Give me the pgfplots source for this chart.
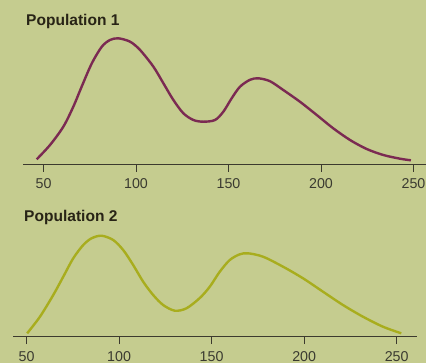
\documentclass[border=0pt]{standalone}
\usepackage{pgfplots}
\pgfplotsset{compat=1.18}
\usepackage{fontspec}
\setmainfont{Liberation Sans}
\definecolor{bgc}{RGB}{197,204,143}
\definecolor{c1}{RGB}{123,42,82}
\definecolor{c2}{RGB}{168,173,30}
\definecolor{txt}{RGB}{40,36,22}
\definecolor{tickc}{RGB}{58,58,48}
\definecolor{axc}{RGB}{60,58,46}
\pgfplotsset{
  panel/.style={
    scale only axis,
    anchor=south west,
    axis x line*=bottom,
    axis y line=none,
    axis line style={-, draw=axc, line width=1bp},
    xtick={50,100,150,200,250},
    xtick align=outside,
    major tick length=7.5bp,
    major tick style={draw=axc, line width=1bp},
    xticklabel style={font=\fontsize{14.3}{16}\selectfont, text=tickc, yshift=-3.5bp},
    /pgf/number format/assume math mode=true,
    ymin=0,
  }
}
\begin{document}
\begin{tikzpicture}[x=1bp,y=1bp]
\fill[bgc] (0,0) rectangle (426,-363);
\useasboundingbox (0,0) rectangle (426,-363);
\begin{axis}[panel, at={(23bp,-164bp)}, xmin=38.9, xmax=262, width=412.7bp, ymax=130, height=130bp]
\addplot[c1, line width=2.4bp, smooth, tension=0.5] coordinates {
(46.3,4.7) (53.5,19) (60.7,37.3) (66.1,57.3) (70.6,77.3) (76.1,100.7) (81.5,117.3) (85.9,124) (90.4,125.7) (96.8,122.3) (102.2,114) (109.4,97.3) (114.8,80.7) (120.2,64) (125.6,50.7) (131,44) (136.4,42.3) (142.7,44) (147.2,52.3) (151.7,65.7) (156.2,77.3) (161.6,84.2) (166.1,85.7) (172.4,82.8) (179.6,74) (188.6,62.3) (197.7,49) (206.6,35.7) (215.7,24) (224.7,15) (233.7,9) (242.7,5.3) (248.6,3.7)
};
\end{axis}
\begin{axis}[panel, at={(13.3bp,-336.7bp)}, xmin=42.8, xmax=260.9, width=403.5bp, ymax=110, height=110bp]
\addplot[c2, line width=2.4bp, smooth, tension=0.5] coordinates {
(50.3,3.4) (57.2,20) (64.4,41.7) (69.8,60) (75.2,78.4) (80.6,91.7) (85.1,98.4) (90.5,101) (96.8,96.7) (102.2,86.7) (107.6,71.7) (113,55) (118.4,41.7) (123.8,31.7) (130.1,26) (136.4,28.4) (143.6,38.7) (149,50) (154.4,65) (159.8,76.7) (165.2,82.4) (169.7,83.4) (177.8,80) (188.6,70) (199.4,58.4) (210.2,45) (221,31.7) (231.8,20) (242.6,10) (252.5,3.4)
};
\end{axis}
\node[anchor=base west, inner sep=0, text=txt, font=\bfseries\fontsize{15.6}{18}\selectfont] at (26,-25) {Population 1};
\node[anchor=base west, inner sep=0, text=txt, font=\bfseries\fontsize{15.6}{18}\selectfont] at (24,-221.7) {Population 2};
\end{tikzpicture}
\end{document}
